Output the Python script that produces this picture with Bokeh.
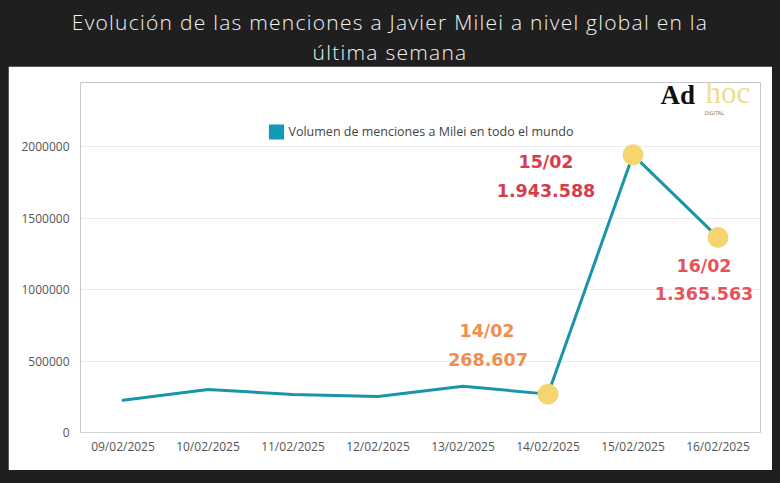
from bokeh.plotting import figure
from bokeh.models import (ColumnDataSource, FactorRange, Range1d, FixedTicker,
                          BasicTickFormatter, Legend, LegendItem, Label, Div)
from bokeh.layouts import column
from bokeh.core.properties import value
from bokeh.embed import file_html
from bokeh.resources import INLINE

# ---------------- data ----------------
dates = ["09/02/2025", "10/02/2025", "11/02/2025", "12/02/2025",
         "13/02/2025", "14/02/2025", "15/02/2025", "16/02/2025"]
mentions = [226000, 301000, 266000, 252000, 324000, 268607, 1943588, 1365563]

highlight_dates = ["14/02/2025", "15/02/2025", "16/02/2025"]
highlight_days = ["14/02", "15/02", "16/02"]
highlight_values = [268607, 1943588, 1365563]

y_ticks = [0, 500000, 1000000, 1500000, 2000000]
series_name = "Volumen de menciones a Milei en todo el mundo"
title_lines = ["Evolución de las menciones a Javier Milei a nivel global en la",
               "última semana"]

# ---------------- styles ----------------
DARK = "#1f1f1f"
LINE = "#1a94aa"
LEGEND_SQ = "#1399b4"
DOT = "#f6d571"
ann_colors = ["#ef8e4e", "#d83b4b", "#e5545b"]
day_dx = [-61, -87, -14]
day_dy = [-63, 7, 29]
val_dx = [-60, -87, -14]
val_dy = [-35, 36, 56]


def fmt(v):
    return f"{v:,}".replace(",", ".")


p = figure(width=764, height=404, x_range=FactorRange(*dates, range_padding=0),
           y_range=Range1d(0, 2450000), output_backend="svg", toolbar_location=None,
           min_border_left=72, min_border_right=12, min_border_top=16,
           min_border_bottom=38, margin=(0, 8, 13, 8))
p.border_fill_color = "white"
p.background_fill_color = "white"
p.outline_line_color = None

# axes
p.yaxis.ticker = FixedTicker(ticks=y_ticks)
p.yaxis.formatter = BasicTickFormatter(use_scientific=False)
p.yaxis.axis_line_color = None
p.yaxis.major_label_standoff = 11
p.xaxis.axis_line_color = "#d2d2d2"
p.xaxis.major_label_standoff = 5
for ax in (p.xaxis, p.yaxis):
    ax.major_tick_line_color = None
    ax.minor_tick_line_color = None
    ax.major_tick_out = 0
    ax.major_tick_in = 0
    ax.minor_tick_out = 0
    ax.major_label_text_font = "Open Sans"
    ax.major_label_text_font_size = "12px"
    ax.major_label_text_color = "#555555"
p.xgrid.grid_line_color = None
p.ygrid.grid_line_color = "#ececec"
p.ygrid.ticker = FixedTicker(ticks=y_ticks[1:])

# series
src = ColumnDataSource(dict(x=dates, y=mentions))
p.line("x", "y", source=src, line_color=LINE, line_width=3, line_cap="round",
       line_join="round")

hsrc = ColumnDataSource(dict(
    x=highlight_dates, y=highlight_values, day=highlight_days,
    num=[fmt(v) for v in highlight_values], color=ann_colors,
    ddx=day_dx, ddy=day_dy, vdx=val_dx, vdy=val_dy))
p.scatter("x", "y", source=hsrc, size=21, fill_color=DOT, line_color=None)

p.text("x", "y", text="day", source=hsrc, x_offset="ddx", y_offset="ddy",
       text_color="color", text_font=value("DejaVu Sans"), text_font_style="bold",
       text_font_size="17.5px", text_align="center", text_baseline="middle")
p.text("x", "y", text="num", source=hsrc, x_offset="vdx", y_offset="vdy",
       text_color="color", text_font=value("DejaVu Sans"), text_font_style="bold",
       text_font_size="17.5px", text_align="center", text_baseline="middle")

# legend (filled square) - zero-height bar used only as legend swatch
sq = p.vbar(x=dates[:1], top=[0], bottom=[0], width=0.001,
            fill_color=LEGEND_SQ, line_color=None)
legend = Legend(items=[LegendItem(label=series_name, renderers=[sq])],
                location="top_center", margin=40, padding=0,
                glyph_width=19, glyph_height=19, label_height=19,
                label_text_font="Open Sans", label_text_font_size="12.5px",
                label_text_color="#444444", label_standoff=3,
                border_line_color=None, background_fill_alpha=0)
p.add_layout(legend, "center")

# logo
p.add_layout(Label(x=580, y=323, x_units="screen", y_units="screen", text="Ad",
                   text_font="Liberation Serif", text_font_style="bold",
                   text_font_size="27px", text_color="#111111"))
p.add_layout(Label(x=625, y=323, x_units="screen", y_units="screen", text="hoc",
                   text_font="Liberation Serif", text_font_size="31px",
                   text_color="#f1dc8e"))
p.add_layout(Label(x=624, y=317, x_units="screen", y_units="screen", text="DIGITAL",
                   text_font="DejaVu Sans", text_font_size="5px",
                   text_color="#777777"))

title_html = ("<div style='width:780px;text-align:center;color:#f2f2f2;"
              "font-family:\"Open Sans\";font-weight:300;font-size:21px;"
              "letter-spacing:1.25px;line-height:30px;padding-top:7px;'>"
              + title_lines[0] + "<br>" + title_lines[1] + "</div>")
title_div = Div(text=title_html, width=780, height=66, margin=(0, 0, 0, 0))

layout = column(title_div, p, width=780, height=483, spacing=0,
                styles={"background-color": DARK})

open("out.html", "w").write(file_html(layout, INLINE))
